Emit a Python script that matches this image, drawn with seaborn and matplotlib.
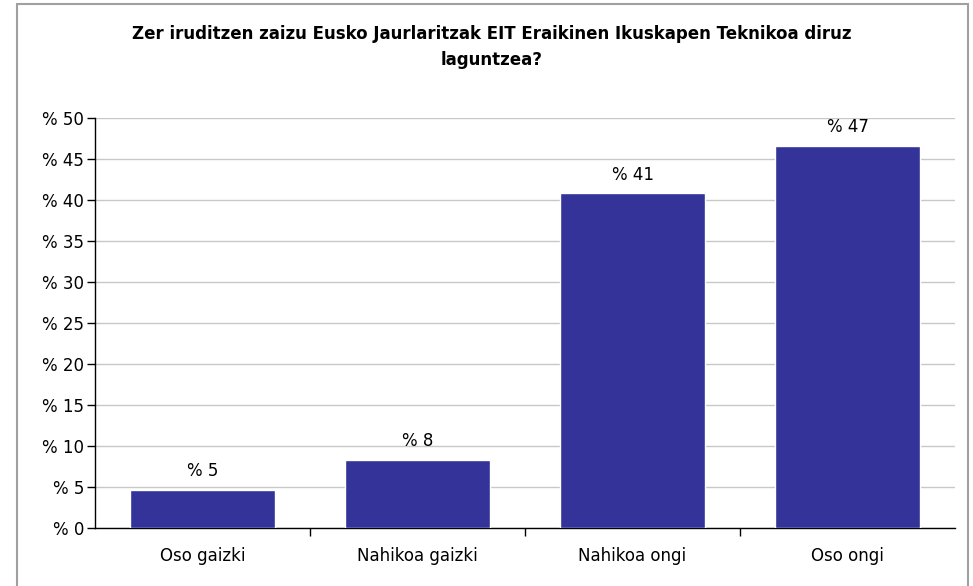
import matplotlib
matplotlib.use("Agg")
import matplotlib.pyplot as plt
import seaborn as sns
import pandas as pd
from matplotlib.patches import Rectangle

categories = ["Oso gaizki", "Nahikoa gaizki", "Nahikoa ongi", "Oso ongi"]
values = [4.6, 8.3, 40.8, 46.6]
labels = ["% 5", "% 8", "% 41", "% 47"]
yticks = list(range(0, 51, 5))

sns.set_theme(style="white")
plt.rcParams['font.family'] = ['DejaVu Sans']
plt.rcParams['text.color'] = 'black'
plt.rcParams['xtick.color'] = 'black'
plt.rcParams['ytick.color'] = 'black'

df = pd.DataFrame({"cat": categories, "val": values})

fig = plt.figure(figsize=(9.73, 5.86), dpi=100)
ax = fig.add_axes([95 / 973, 1 - 528 / 586, (955 - 95) / 973, (528 - 118) / 586])

sns.barplot(data=df, x="cat", y="val", color="#333399", width=0.675,
            saturation=1, ax=ax, zorder=3)

for i, (v, lab) in enumerate(zip(values, labels)):
    ax.text(i, v + 1.2, lab, ha="center", va="bottom", fontsize=12, color="black")

ax.set_ylim(0, 50)
ax.set_xlim(-0.5, 3.5)
ax.set_yticks(yticks)
ax.set_yticklabels([f"% {t}" for t in yticks], fontsize=12)
ax.set_xticks([0, 1, 2, 3])
ax.set_xticklabels(categories, fontsize=12)
ax.tick_params(axis="x", length=0, pad=14)
ax.tick_params(axis="y", length=6, width=1, color="black", direction="out", left=True, pad=2)
ax.set_xticks([0.5, 1.5, 2.5], minor=True)
ax.tick_params(axis="x", which="minor", length=6, width=1, color="black", direction="out", bottom=True)
ax.yaxis.grid(True, color="#c8c8c8", linewidth=1, zorder=0)
ax.set_axisbelow(True)
ax.set_xlabel("")
ax.set_ylabel("")
for s in ["top", "right"]:
    ax.spines[s].set_visible(False)
for s in ["left", "bottom"]:
    ax.spines[s].set_color("black")
    ax.spines[s].set_linewidth(1)

fig.text(492 / 973, 1 - 47 / 586,
         "Zer iruditzen zaizu Eusko Jaurlaritzak EIT Eraikinen Ikuskapen Teknikoa diruz\nlaguntzea?",
         ha="center", va="center", fontsize=12, fontweight="bold", linespacing=1.55)

fig.patches.append(Rectangle((17 / 973, -0.05), (968 - 17) / 973, 1.05 - 4 / 586,
                             transform=fig.transFigure, fill=False,
                             edgecolor="#a0a0a0", linewidth=1.5))

fig.savefig("out.png", dpi=100)
